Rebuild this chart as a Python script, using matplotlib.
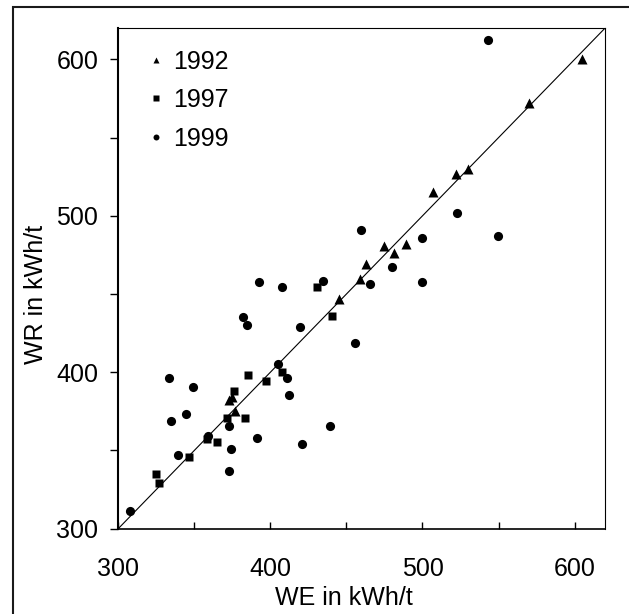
import matplotlib
matplotlib.use("Agg")
import matplotlib.pyplot as plt
from matplotlib.patches import Rectangle
from matplotlib.ticker import MultipleLocator
from matplotlib.transforms import ScaledTranslation

plt.rcParams["font.family"] = ["Liberation Sans", "DejaVu Sans"]

# 1992 (triangles)
we_1992 = [605, 570, 530, 522, 507, 489, 481, 475, 463, 459, 445, 372.5, 375, 377]
wr_1992 = [600, 572, 530, 527, 515, 482, 476, 481, 469.5, 459.5, 446.5, 382.5, 384, 375]

# 1997 (squares)
we_1997 = [430.5, 440.5, 385.3, 397.3, 407.6, 376.2, 371.6, 383.2, 358.5, 364.6, 346.3, 324.6, 326.6]
wr_1997 = [454.3, 435.8, 398.2, 394.6, 400.3, 388.2, 370.5, 370.5, 357.5, 355.4, 345.6, 334.7, 329.3]

# 1999 (circles)
we_1999 = [542.8, 522.5, 549.8, 459.6, 499.5, 479.7, 499.5, 465.6, 434.5, 407.6,
           392.5, 382.3, 384.6, 419.4, 455.6, 405.3, 410.6, 412.1, 333.0, 349.2,
           344.3, 334.6, 372.5, 439.5, 359.1, 391.3, 374.3, 421.1, 339.3, 372.6, 307.5]
wr_1999 = [612.4, 502.0, 487.4, 491.0, 485.7, 467.5, 457.6, 456.4, 458.3, 454.8,
           457.5, 435.1, 430.2, 428.8, 418.5, 405.2, 396.0, 385.5, 396.4, 390.8,
           373.3, 369.0, 365.8, 365.6, 359.3, 357.7, 350.9, 353.8, 347.1, 336.7, 311.3]

AX_LIM = (300, 620)
FS = 18

fig = plt.figure(figsize=(6.29, 6.14), dpi=100)
ax = fig.add_axes([0.1881, 0.1391, 0.7737, 0.8150])

# 1:1 line
ax.plot(AX_LIM, AX_LIM, color="black", lw=0.8, zorder=1)

ax.plot(we_1992, wr_1992, ls="none", marker="^", ms=7.4, color="black",
        mec="none", label="1992", zorder=3)
ax.plot(we_1997, wr_1997, ls="none", marker="s", ms=6.0, color="black",
        mec="none", label="1997", zorder=3)
ax.plot(we_1999, wr_1999, ls="none", marker="o", ms=6.6, color="black",
        mec="none", label="1999", zorder=3)

ax.set_xlim(*AX_LIM)
ax.set_ylim(*AX_LIM)

for axis in (ax.xaxis, ax.yaxis):
    axis.set_major_locator(MultipleLocator(100))
    axis.set_minor_locator(MultipleLocator(50))

ax.tick_params(axis="x", which="both", direction="in", length=5, width=1.0,
               pad=20.5, labelsize=FS, top=False)
ax.tick_params(axis="y", which="both", direction="out", length=5.5, width=1.0,
               pad=9, labelsize=FS, right=False)

ax.spines["left"].set_linewidth(1.5)
ax.spines["bottom"].set_linewidth(1.2)
ax.spines["top"].set_linewidth(0.8)
ax.spines["right"].set_linewidth(0.8)

# first x label sits a bit left of its tick
fig.canvas.draw()
lab0 = ax.get_xticklabels()[0]
lab0.set_transform(lab0.get_transform()
                   + ScaledTranslation(-6 / 100, 0, fig.dpi_scale_trans))

ax.set_xlabel("WE in kWh/t", fontsize=FS)
ax.set_ylabel("WR in kWh/t", fontsize=FS)
ax.xaxis.set_label_coords(0.4637, -0.114)
ax.yaxis.set_label_coords(-0.1445, 0.468)

ax.legend(loc="upper left", bbox_to_anchor=(0.058, 0.957), frameon=False,
          fontsize=FS, markerscale=0.65, handlelength=0.75, handletextpad=0.3,
          labelspacing=0.58, borderpad=0, borderaxespad=0, numpoints=1)

# outer frame, cut off at the right and bottom
fig.add_artist(Rectangle((13 / 629, -0.2), 1.2, 1.2 - 7 / 614,
                         transform=fig.transFigure, fill=False,
                         edgecolor="#1a1a1a", lw=1.5, clip_on=False))

fig.savefig("out.png", dpi=100)
